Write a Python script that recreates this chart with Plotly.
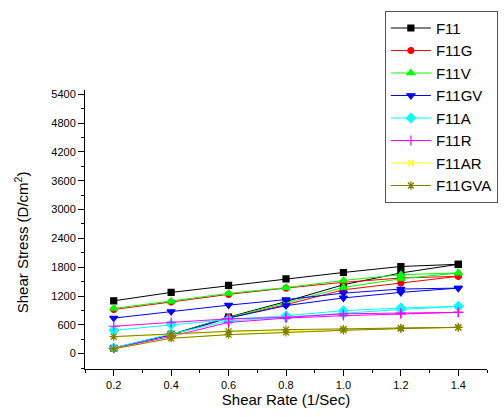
import plotly.graph_objects as go

# Shear rate steps (1/Sec); each run goes up the ramp then back down
shear_rate = [0.2, 0.4, 0.6, 0.8, 1.0, 1.2, 1.4]

# Shear stress (D/cm^2) on the up-ramp and the down-ramp
f11_up = [110, 400, 760, 1085, 1435, 1680, 1860]
f11_down = [1100, 1275, 1420, 1555, 1690, 1815, 1860]
f11g_up = [105, 395, 745, 1020, 1330, 1470, 1610]
f11g_down = [920, 1075, 1235, 1365, 1485, 1575, 1610]
f11v_up = [115, 400, 750, 1055, 1380, 1560, 1680]
f11v_down = [940, 1090, 1255, 1375, 1525, 1645, 1680]
f11gv_up = [120, 395, 740, 1000, 1160, 1275, 1365]
f11gv_down = [740, 875, 1010, 1125, 1260, 1345, 1365]
f11a_up = [120, 410, 680, 765, 840, 920, 985]
f11a_down = [485, 605, 710, 790, 895, 950, 985]
f11r_up = [110, 360, 650, 740, 790, 830, 860]
f11r_down = [570, 650, 725, 755, 830, 845, 860]
f11ar_up = [100, 320, 395, 445, 490, 525, 545]
f11ar_down = [350, 400, 460, 495, 510, 535, 545]
f11gva_up = [100, 320, 395, 445, 485, 520, 548]
f11gva_down = [355, 410, 465, 500, 515, 535, 548]

y_ticks = [0, 600, 1200, 1800, 2400, 3000, 3600, 4200, 4800, 5400]
x_ticks = [0.2, 0.4, 0.6, 0.8, 1.0, 1.2, 1.4]

series = [
    ("F11", f11_up, f11_down, "#000000", "square", 6),
    ("F11G", f11g_up, f11g_down, "#FF0000", "circle", 6),
    ("F11V", f11v_up, f11v_down, "#00FF00", "triangle-up", 7),
    ("F11GV", f11gv_up, f11gv_down, "#0000FF", "triangle-down", 7),
    ("F11A", f11a_up, f11a_down, "#00FFFF", "diamond", 7),
    ("F11R", f11r_up, f11r_down, "#FF00FF", "cross-thin", 7),
    ("F11AR", f11ar_up, f11ar_down, "#FFFF00", "x-thin", 6),
    ("F11GVA", f11gva_up, f11gva_down, "#808000", "asterisk", 7),
]

fig = go.Figure()
for name, up, down, color, symbol, size in series:
    fig.add_trace(go.Scatter(
        x=shear_rate + shear_rate[::-1],
        y=up + down[::-1],
        mode="lines+markers",
        name=name,
        line=dict(color=color, width=1),
        marker=dict(symbol=symbol, size=size, color=color,
                    line=dict(color=color, width=1.2)),
    ))

font_family = "Liberation Sans, Arial, sans-serif"
axis_font = dict(family=font_family, size=11, color="#000000")

fig.update_layout(
    width=504, height=417,
    margin=dict(l=85, r=6, t=90, b=48),
    paper_bgcolor="white", plot_bgcolor="white",
    font=dict(family=font_family, color="#000000"),
    showlegend=True,
    legend=dict(
        x=0.746, y=1.284, xanchor="left", yanchor="top",
        bordercolor="#555555", borderwidth=1, bgcolor="white",
        font=dict(size=15, family=font_family),
        itemwidth=40, tracegroupgap=0,
    ),
    xaxis=dict(
        range=[0.1, 1.5], showgrid=False, zeroline=False,
        showline=True, linecolor="#000000", linewidth=1,
        tickmode="array", tickvals=x_ticks, ticktext=[f"{v:.1f}" for v in x_ticks],
        ticks="outside", ticklen=6, tickcolor="#000000",
        minor=dict(dtick=0.1, tick0=0.1, ticks="outside", ticklen=3, tickcolor="#000000"),
        tickfont=axis_font,
        title=dict(text="Shear Rate (1/Sec)", font=dict(size=15), standoff=4),
    ),
    yaxis=dict(
        range=[-320, 5490], showgrid=False, zeroline=False,
        showline=True, linecolor="#000000", linewidth=1,
        tickmode="array", tickvals=y_ticks,
        ticks="outside", ticklen=6, tickcolor="#000000",
        minor=dict(dtick=300, tick0=-300, ticks="outside", ticklen=3, tickcolor="#000000"),
        tickfont=axis_font,
    ),
    annotations=[dict(
        text="Shear Stress (D/cm<sup>2</sup>)", textangle=-90,
        xref="paper", yref="paper", x=-0.1586, y=0.455,
        xanchor="center", yanchor="middle", showarrow=False,
        font=dict(size=15, family=font_family, color="#000000"),
    )],
)

fig.write_html("out.html")
